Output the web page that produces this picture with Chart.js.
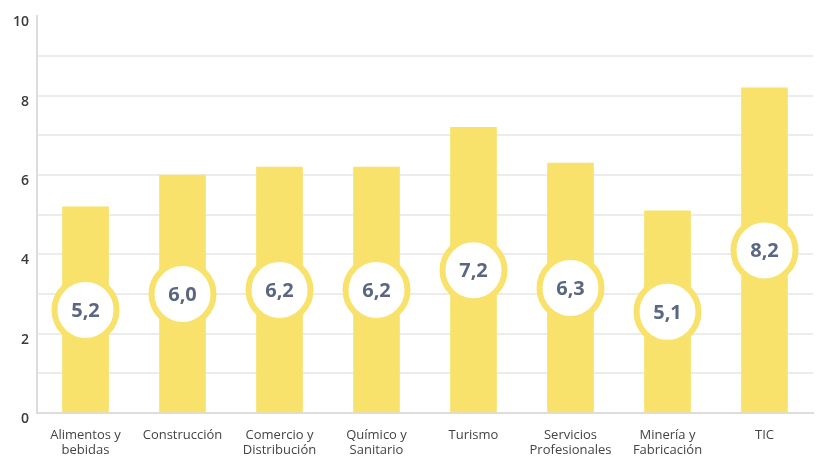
<!DOCTYPE html>
<html>
<head>
<meta charset="utf-8">
<script src="https://cdn.jsdelivr.net/npm/chart.js@4.4.0/dist/chart.umd.min.js"></script>
<style>
  body { margin: 0; background: #fff; }
  #wrap { width: 816px; height: 459px; position: relative; }
</style>
</head>
<body>
<div id="wrap"><canvas id="sectores"></canvas></div>
<script>
// sector names (two lines where the label wraps)
let sectores = [
    ['Alimentos y', 'bebidas'],
    'Construcción',
    ['Comercio y', 'Distribución'],
    ['Químico y', 'Sanitario'],
    'Turismo',
    ['Servicios', 'Profesionales'],
    ['Minería y', 'Fabricación'],
    'TIC'
]
// score per sector
let puntuacion = [5.2, 6.0, 6.2, 6.2, 7.2, 6.3, 5.1, 8.2]
// only even values get a tick label, every integer gets a grid line
let etiquetasEje = ['0', '', '2', '', '4', '', '6', '', '8', '', '10']

let amarillo = '#f8e26b'

// white badge with the value, sitting halfway up each bar
let badges = {
    id: 'badges',
    afterDatasetsDraw(chart) {
        let ctx = chart.ctx
        let yScale = chart.scales.y
        let meta = chart.getDatasetMeta(0)
        let values = chart.data.datasets[0].data
        ctx.save()
        meta.data.forEach(function(bar, i) {
            let v = values[i]
            let y = yScale.getPixelForValue(v / 2)
            ctx.beginPath()
            ctx.arc(bar.x, y, 31, 0, Math.PI * 2)
            ctx.fillStyle = '#ffffff'
            ctx.fill()
            ctx.lineWidth = 6
            ctx.strokeStyle = amarillo
            ctx.stroke()
            ctx.fillStyle = '#5b6782'
            ctx.font = 'bold 20px "Open Sans"'
            ctx.textAlign = 'center'
            ctx.textBaseline = 'middle'
            ctx.fillText(v.toFixed(1).replace('.', ','), bar.x, y + 1)
        })
        ctx.restore()
    }
}

let ctx = document.querySelector('#sectores').getContext('2d')

let chart = new Chart(ctx, {
    type: 'bar',
    data: {
        labels: sectores,
        datasets: [
            {
                data: puntuacion,
                backgroundColor: amarillo,
                barThickness: 46
            }
        ]
    },
    options: {
        responsive: true,
        maintainAspectRatio: false,
        animation: false,
        layout: { padding: { left: 5, top: 8, right: 3, bottom: 0 } },
        plugins: {
            legend: { display: false },
            tooltip: { enabled: false }
        },
        scales: {
            x: {
                grid: { display: false, drawTicks: false },
                border: { color: '#dddddd', width: 2 },
                ticks: {
                    color: '#444444',
                    font: { family: 'Open Sans', size: 13, lineHeight: 1.15 },
                    padding: 15,
                    maxRotation: 0,
                    autoSkip: false
                },
                afterFit: function(scale) {
                    scale.height = 46
                }
            },
            y: {
                min: 0,
                max: 10,
                grid: {
                    drawTicks: false,
                    lineWidth: 2,
                    color: function(c) {
                        return c.tick && c.tick.value === 10 ? 'rgba(0,0,0,0)' : '#ececec'
                    }
                },
                border: { color: '#dddddd', width: 2 },
                ticks: {
                    stepSize: 1,
                    padding: 8,
                    labelOffset: 6,
                    color: '#3a3a3a',
                    font: { family: 'Open Sans', size: 14, weight: '600' },
                    callback: function(value, index) {
                        return etiquetasEje[index]
                    }
                }
            }
        }
    },
    plugins: [badges]
})
</script>
</body>
</html>
